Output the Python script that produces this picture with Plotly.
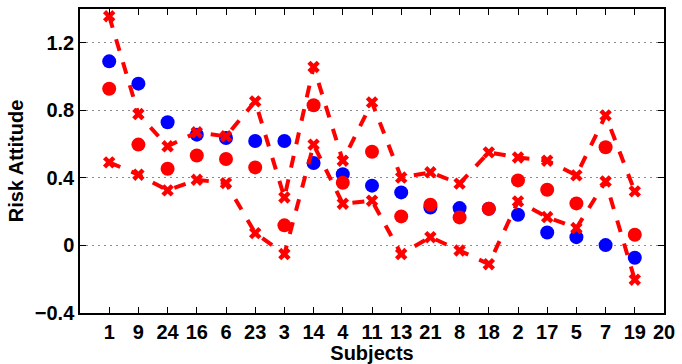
import plotly.graph_objects as go

subjects = ["1", "9", "24", "16", "6", "23", "3", "14", "4", "11", "13", "21", "8", "18", "2", "17", "5", "7", "19"]
blue_vals = [1.090, 0.958, 0.729, 0.656, 0.636, 0.618, 0.618, 0.488, 0.422, 0.354, 0.314, 0.225, 0.221, 0.217, 0.182, 0.077, 0.049, 0.002, -0.073]
red_vals = [0.928, 0.597, 0.454, 0.533, 0.512, 0.462, 0.119, 0.830, 0.371, 0.555, 0.172, 0.241, 0.166, 0.217, 0.385, 0.330, 0.249, 0.581, 0.063]
upper_vals = [1.357, 0.778, 0.587, 0.670, 0.646, 0.853, 0.284, 1.057, 0.502, 0.847, 0.402, 0.433, 0.366, 0.551, 0.521, 0.502, 0.415, 0.770, 0.320]
lower_vals = [0.492, 0.419, 0.326, 0.389, 0.369, 0.073, -0.051, 0.597, 0.247, 0.265, -0.051, 0.049, -0.030, -0.111, 0.261, 0.168, 0.103, 0.379, -0.203]

x_tick_labels = subjects + ["20"]
y_ticks = [-0.4, 0, 0.4, 0.8, 1.2]
y_tick_text = ["\u22120.4", "0", "0.4", "0.8", "1.2"]

xpos = list(range(1, len(subjects) + 1))
font_family = "Liberation Sans, Arial, sans-serif"
fsize = 20

fig = go.Figure()
fig.add_trace(go.Scatter(x=xpos, y=blue_vals, mode="markers",
                         marker=dict(color="#0000ff", size=14, line=dict(width=0)), showlegend=False))
fig.add_trace(go.Scatter(x=xpos, y=red_vals, mode="markers",
                         marker=dict(color="#ff0000", size=14, line=dict(width=0)), showlegend=False))
for vals in (upper_vals, lower_vals):
    fig.add_trace(go.Scatter(x=xpos, y=vals, mode="lines+markers",
                             line=dict(color="#ff0000", width=4, dash="dash"),
                             marker=dict(symbol="x", color="#ff0000", size=11, line=dict(width=0)),
                             showlegend=False))

fig.update_layout(
    width=682, height=364,
    margin=dict(l=80, r=14, t=7, b=51),
    plot_bgcolor="white", paper_bgcolor="white",
    font=dict(family=font_family, size=fsize, color="black"),
)
fig.update_xaxes(
    range=[0, 20], tickmode="array", tickvals=list(range(1, 21)), ticktext=x_tick_labels,
    ticks="inside", ticklen=6, tickcolor="black", tickwidth=1,
    showline=True, linecolor="black", linewidth=1.5, mirror="ticks",
    showgrid=False, zeroline=False,
    tickfont=dict(family=font_family, size=fsize, color="black", weight="bold"),
    title=dict(text="<b>Subjects</b>", standoff=0, font=dict(size=fsize)),
)
fig.update_yaxes(
    range=[-0.4, 1.4], tickmode="array", tickvals=y_ticks, ticktext=y_tick_text,
    ticks="inside", ticklen=6, tickcolor="black", tickwidth=1,
    showline=True, linecolor="black", linewidth=1.5, mirror="ticks",
    showgrid=True, gridcolor="#8c8c8c", griddash="1.5px,4.5px", gridwidth=1, zeroline=False,
    tickfont=dict(family=font_family, size=fsize, color="black", weight="bold"),
    title=dict(text="<b>Risk Attitude</b>", standoff=6, font=dict(size=fsize)),
)

fig.write_html("out.html")
